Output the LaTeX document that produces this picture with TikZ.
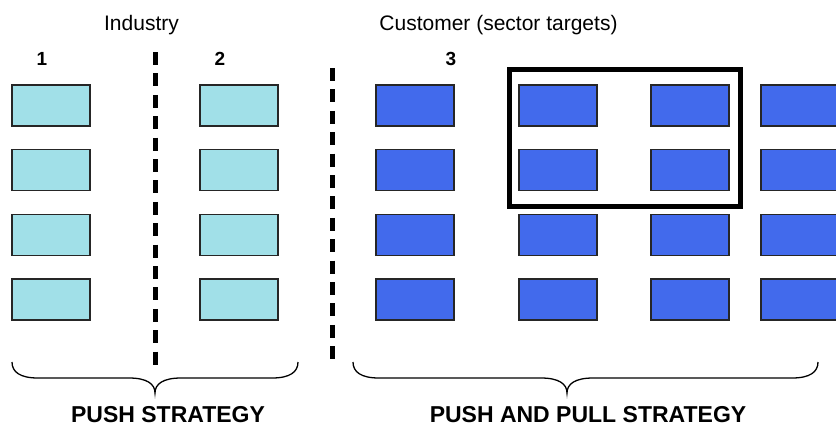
\documentclass[tikz,border=0pt]{standalone}
\usepackage{fontspec}
\setmainfont{Liberation Sans}
\definecolor{pushcyan}{RGB}{161,224,232}
\definecolor{pullblue}{RGB}{66,106,236}
\tikzstyle{pushbox}=[rectangle,minimum width=78pt,minimum height=41pt,inner sep=0pt,draw=black!85,line width=1.3pt,fill=pushcyan]
\tikzstyle{pullbox}=[rectangle,minimum width=78pt,minimum height=41pt,inner sep=0pt,draw=black!85,line width=1.3pt,fill=pullblue]
\tikzstyle{head}=[anchor=base,inner sep=0pt,font=\fontsize{21}{25}\selectfont]
\tikzstyle{num}=[anchor=base,inner sep=0pt,font=\fontsize{19}{23}\selectfont\bfseries]
\tikzstyle{strategy}=[anchor=base,inner sep=0pt,font=\fontsize{23}{27}\selectfont\bfseries]
\tikzstyle{divider}=[line width=5pt,dash pattern=on 13pt off 8.4pt]
\tikzstyle{bracket}=[line width=1.3pt]
\tikzstyle{frame}=[line width=5pt]

\begin{document}
\begin{tikzpicture}[x=1pt,y=-1pt,node distance=64.7pt]
\useasboundingbox (0,0) rectangle (836,426);
\clip (0,0) rectangle (836,426);

% headings
\node (industry) [head] at (141.5,30) {Industry};
\node (customer) [head] at (498.5,30) {Customer (sector targets)};
\node (num1) [num] at (42,65) {1};
\node (num2) [num] at (220,65) {2};
\node (num3) [num] at (451,65) {3};

% industry columns
\node (ind1a) [pushbox] at (51,105.5) {};
\node (ind1b) [pushbox,below of =ind1a] {};
\node (ind1c) [pushbox,below of =ind1b] {};
\node (ind1d) [pushbox,below of =ind1c] {};
\node (ind2a) [pushbox] at (239,105.5) {};
\node (ind2b) [pushbox,below of =ind2a] {};
\node (ind2c) [pushbox,below of =ind2b] {};
\node (ind2d) [pushbox,below of =ind2c] {};

% customer columns
\node (cus1a) [pullbox] at (415,105.5) {};
\node (cus1b) [pullbox,below of =cus1a] {};
\node (cus1c) [pullbox,below of =cus1b] {};
\node (cus1d) [pullbox,below of =cus1c] {};
\node (cus2a) [pullbox] at (558,105.5) {};
\node (cus2b) [pullbox,below of =cus2a] {};
\node (cus2c) [pullbox,below of =cus2b] {};
\node (cus2d) [pullbox,below of =cus2c] {};
\node (cus3a) [pullbox] at (690,105.5) {};
\node (cus3b) [pullbox,below of =cus3a] {};
\node (cus3c) [pullbox,below of =cus3b] {};
\node (cus3d) [pullbox,below of =cus3c] {};
\node (cus4a) [pullbox] at (800,105.5) {};
\node (cus4b) [pullbox,below of =cus4a] {};
\node (cus4c) [pullbox,below of =cus4b] {};
\node (cus4d) [pullbox,below of =cus4c] {};

% sector target frame
\draw[frame] (509,69.5) rectangle (740,206.5);

% dividers
\coordinate (div1top) at (155,52);
\coordinate (div1bot) at (155,365);
\coordinate (div2top) at (332,68);
\coordinate (div2bot) at (332,362);
\draw[divider] (div1top) -- (div1bot);
\draw[divider] (div2top) -- (div2bot);

% braces
\draw[bracket] (12,362) .. controls (12,372) and (20,378) .. (38,378) -- (129,378)
  .. controls (147,378) and (155,384) .. (155,393)
  .. controls (155,384) and (163,378) .. (181,378) -- (272,378)
  .. controls (290,378) and (298,372) .. (298,362);
\draw[bracket] (353,362) .. controls (353,372) and (361,378) .. (379,378) -- (541,378)
  .. controls (559,378) and (567,384) .. (567,393)
  .. controls (567,384) and (575,378) .. (593,378) -- (792,378)
  .. controls (810,378) and (818,372) .. (818,362);

\node (push) [strategy] at (168,422.5) {PUSH STRATEGY};
\node (pushpull) [strategy] at (588,422.5) {PUSH AND PULL STRATEGY};
\end{tikzpicture}
\end{document}
